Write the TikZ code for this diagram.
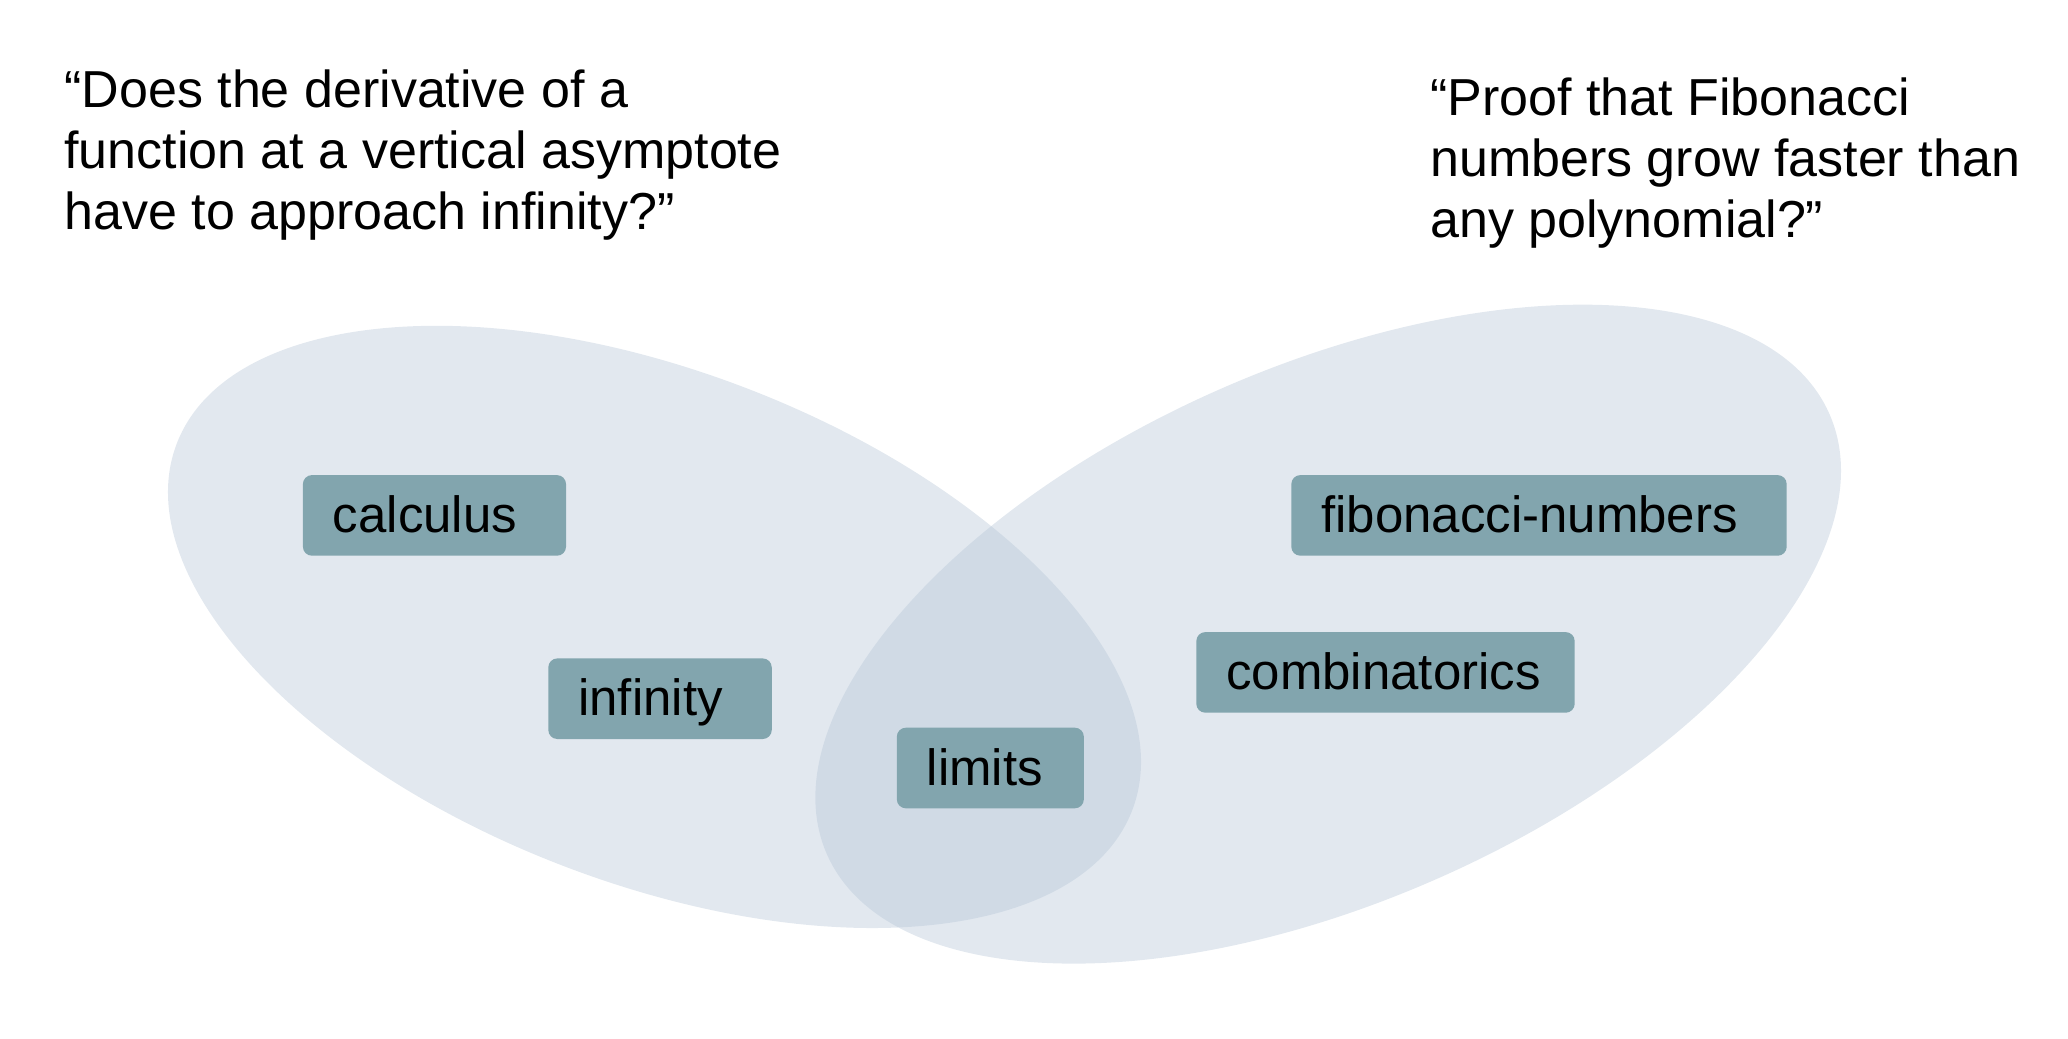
\documentclass[tikz,border=0pt]{standalone}
\usepackage{fontspec}
\setmainfont{Liberation Sans}
\definecolor{setblue}{RGB}{184,199,216}
\definecolor{tagfill}{RGB}{130,165,174}
\tikzset{
  venn/.style={fill=setblue, fill opacity=0.41},
  tag/.style={fill=tagfill, rounded corners=0.9mm, anchor=west,
    minimum height=0.806cm, inner ysep=0pt, inner xsep=0.3cm,
    text height=0.36cm, text depth=0.02cm,
    font=\fontsize{14.5}{17}\selectfont,
    execute at end node={\hspace{#1}}},
  tag/.default=0.19cm,
  quote/.style={anchor=base west, align=left, inner sep=0pt,
    font=\fontsize{14.8}{17.4}\selectfont}
}
\begin{document}
\begin{tikzpicture}
        \useasboundingbox (0,0) rectangle (20.68,10.38);
        % Centres of the two sets
        \coordinate (L) at (6.545,4.111);
        \coordinate (R) at (13.282,4.039);

        % Draw the two sets
        \fill[venn, rotate around={-21:(L)}] (L) ellipse (5.117 and 2.558);
        \fill[venn, rotate around={23.7:(R)}] (R) ellipse (5.475 and 2.678);

        % The two questions (anchored at the last line)
        \node[quote] (q_1) at (0.637,8.083) {``Does the derivative of a\\function at a vertical asymptote\\have to approach infinity?''};
        \node[quote] (q_2) at (14.295,8.005) {``Proof that Fibonacci\\numbers grow faster than\\any polynomial?''};

        % Label the tags
        \node[tag] (calculus) at (3.022,5.226) {calculus};
        \node[tag] (infinity) at (5.476,3.393) {infinity};
        \node[tag=0.11cm] (limits) at (8.961,2.700) {limits};
        \node[tag] (fib) at (12.906,5.226) {fibonacci-numbers};
        \node[tag=0.04cm] (comb) at (11.956,3.656) {combinatorics};
    \end{tikzpicture}
\end{document}
